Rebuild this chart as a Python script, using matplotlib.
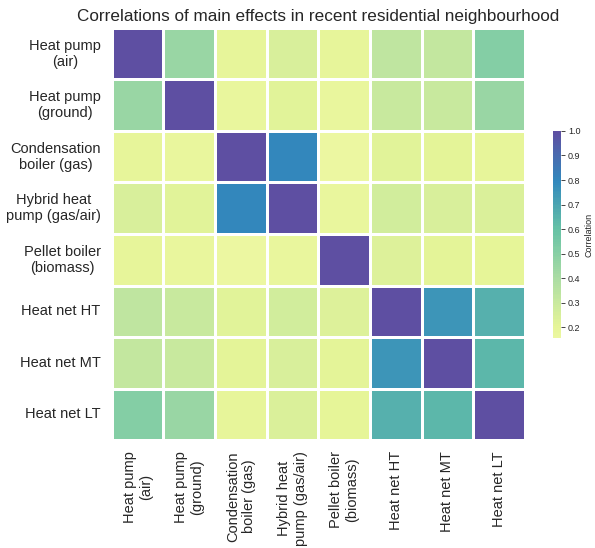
import matplotlib
matplotlib.use("Agg")
import matplotlib.pyplot as plt
import numpy as np
import pandas as pd
import seaborn as sns

labels = [
    "Heat pump\n(air)",
    "Heat pump\n(ground)",
    "Condensation\nboiler (gas)",
    "Hybrid heat\npump (gas/air)",
    "Pellet boiler\n(biomass)",
    "Heat net HT",
    "Heat net MT",
    "Heat net LT",
]

row_hp_air = [1.00, 0.45, 0.19, 0.25, 0.19, 0.33, 0.32, 0.51]
row_hp_ground = [0.45, 1.00, 0.18, 0.22, 0.18, 0.30, 0.30, 0.45]
row_cond = [0.19, 0.18, 1.00, 0.80, 0.155, 0.22, 0.21, 0.19]
row_hybrid = [0.25, 0.22, 0.80, 1.00, 0.18, 0.27, 0.25, 0.24]
row_pellet = [0.19, 0.18, 0.155, 0.18, 1.00, 0.23, 0.21, 0.20]
row_ht = [0.33, 0.30, 0.22, 0.27, 0.23, 1.00, 0.75, 0.66]
row_mt = [0.32, 0.30, 0.21, 0.25, 0.21, 0.75, 1.00, 0.64]
row_lt = [0.51, 0.45, 0.19, 0.24, 0.20, 0.66, 0.64, 1.00]

corr = pd.DataFrame(
    [row_hp_air, row_hp_ground, row_cond, row_hybrid,
     row_pellet, row_ht, row_mt, row_lt],
    index=labels, columns=labels,
)

plt.rcParams["font.family"] = ["Liberation Sans", "DejaVu Sans"]
text_color = "#262626"

fig = plt.figure(figsize=(5.95, 5.48), dpi=100)
ax = fig.add_axes([0.188, 0.197, 0.694, 0.752])
cax = fig.add_axes([0.929, 0.383, 0.014, 0.378])

sns.heatmap(
    corr, ax=ax, cbar_ax=cax, cmap="Spectral", center=0,
    linewidths=0.8, linecolor="white",
    cbar_kws={"label": "Correlation"},
)

ax.set_title("Correlations of main effects in recent residential neighbourhood",
             fontsize=12.3, color=text_color, pad=5)
ax.tick_params(length=0, labelsize=10.5, labelcolor=text_color, pad=8)
plt.setp(ax.get_xticklabels(), rotation=90, ha="center", va="top")
plt.setp(ax.get_yticklabels(), rotation=0, ha="right", va="center", multialignment="center")

cax.tick_params(labelsize=6.5, length=3, width=0.6, color=text_color,
                labelcolor=text_color, pad=2)
cax.yaxis.set_major_locator(matplotlib.ticker.MultipleLocator(0.1))
cax.set_ylabel("Correlation", fontsize=6.5, color=text_color, labelpad=3)
for s in cax.spines.values():
    s.set_visible(False)

fig.savefig("out.png", dpi=100)
